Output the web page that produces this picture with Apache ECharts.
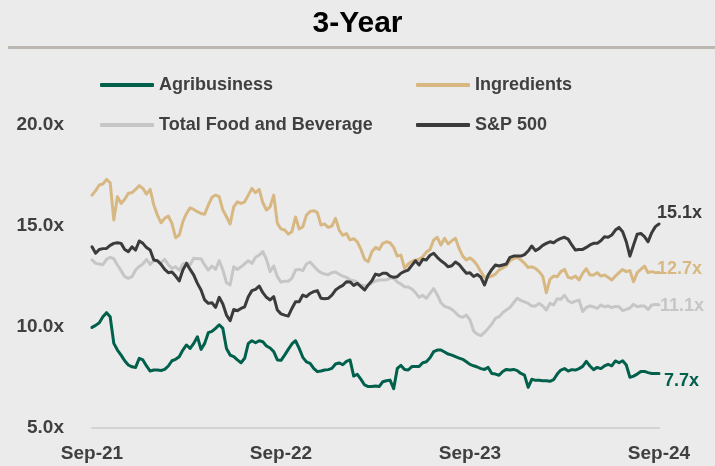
<!DOCTYPE html>
<html>
<head>
<meta charset="utf-8">
<script src="https://cdn.jsdelivr.net/npm/echarts@6/dist/echarts.min.js"></script>
<style>
  html, body { margin: 0; padding: 0; background: #ebebeb; }
  #chart { width: 715px; height: 466px; }
</style>
</head>
<body>
<div id="chart"></div>
<script>
// Weekly P/E multiples, Sep-2021 to Sep-2024 (157 weeks)
const tickLabels = ['Sep-21', 'Sep-22', 'Sep-23', 'Sep-24'];
const seriesNames = ['Agribusiness', 'Ingredients', 'Total Food and Beverage', 'S&P 500'];

const agribusiness = [
  9.98, 10.08, 10.21, 10.51, 10.71, 10.51, 9.19, 8.86, 8.61, 8.33,
  8.12, 8.03, 8.00, 8.45, 8.37, 8.07, 7.82, 7.87, 7.87, 7.85,
  7.90, 8.07, 8.33, 8.40, 8.53, 8.86, 9.11, 8.94, 9.19, 9.52,
  8.89, 9.19, 9.72, 9.78, 9.93, 10.11, 9.93, 8.94, 8.61, 8.53,
  8.37, 8.23, 8.45, 9.19, 9.32, 9.22, 9.32, 9.27, 9.06, 8.96,
  8.78, 8.37, 8.35, 8.61, 8.89, 9.16, 9.32, 8.94, 8.50, 8.27,
  8.20, 7.95, 7.79, 7.82, 7.87, 7.89, 7.95, 8.17, 8.22, 8.13,
  8.30, 8.37, 7.57, 7.66, 7.41, 7.13, 7.05, 7.05, 7.08, 7.05,
  7.29, 7.34, 7.37, 6.95, 7.95, 8.10, 7.90, 7.87, 8.04, 8.04,
  8.04, 8.23, 8.28, 8.48, 8.78, 8.86, 8.86, 8.76, 8.66, 8.61,
  8.53, 8.46, 8.40, 8.28, 8.15, 8.08, 8.02, 7.94, 7.90, 8.00,
  7.70, 7.67, 7.61, 7.80, 7.90, 7.87, 7.90, 7.84, 7.70, 7.62,
  7.01, 7.41, 7.36, 7.36, 7.34, 7.34, 7.31, 7.39, 7.67, 7.87,
  7.94, 7.82, 7.89, 7.87, 7.94, 8.05, 8.30, 8.07, 7.89, 8.00,
  7.94, 8.07, 8.15, 8.08, 8.32, 8.23, 8.33, 8.12, 7.51, 7.57,
  7.67, 7.80, 7.80, 7.74, 7.70, 7.70, 7.70
];

const ingredients = [
  16.53, 16.75, 17.03, 17.08, 17.31, 17.14, 15.30, 16.45, 16.12, 16.32,
  16.62, 16.65, 16.81, 17.00, 16.86, 16.58, 16.81, 16.04, 15.54, 15.16,
  15.38, 15.49, 15.13, 14.42, 14.55, 15.21, 15.62, 15.90, 15.82, 15.71,
  15.62, 15.58, 16.04, 16.42, 16.53, 16.45, 15.79, 15.46, 15.10, 15.95,
  16.20, 16.12, 16.20, 16.53, 16.86, 16.65, 16.81, 16.15, 15.79, 15.95,
  16.53, 15.13, 14.85, 14.80, 14.60, 14.72, 15.45, 14.85, 14.96, 15.54,
  15.72, 15.76, 15.66, 15.05, 15.10, 14.93, 15.00, 15.38, 14.80, 14.54,
  14.63, 14.31, 14.37, 14.21, 13.84, 13.35, 13.23, 13.73, 13.94, 13.84,
  14.14, 14.22, 14.17, 13.94, 13.51, 13.56, 12.90, 13.12, 13.25, 13.32,
  13.35, 13.48, 13.71, 13.84, 14.31, 14.44, 14.06, 14.39, 14.11, 14.27,
  14.39, 13.89, 13.51, 13.32, 13.42, 13.28, 13.05, 12.74, 12.46, 12.46,
  12.52, 12.62, 12.82, 12.92, 13.03, 13.28, 13.38, 13.45, 13.32, 13.15,
  12.95, 12.98, 12.90, 12.74, 12.52, 11.70, 12.36, 12.52, 12.49, 12.74,
  12.85, 12.46, 12.41, 12.52, 12.33, 12.66, 12.89, 12.57, 12.57, 12.69,
  12.52, 12.57, 12.46, 12.33, 12.52, 12.69, 12.85, 12.74, 12.79, 12.24,
  12.69, 12.85, 13.02, 12.69, 12.74, 12.69, 12.70
];

const totalFoodBev = [
  13.32, 13.15, 13.12, 13.08, 13.35, 13.45, 13.38, 13.07, 12.79, 12.49,
  12.41, 12.49, 12.82, 13.00, 13.12, 13.35, 13.10, 13.28, 13.28, 13.18,
  13.35, 13.08, 12.90, 12.98, 12.82, 13.12, 13.18, 13.08, 13.40, 13.38,
  13.38, 13.07, 12.82, 13.02, 12.85, 13.28, 12.82, 12.19, 12.08, 12.98,
  12.85, 12.98, 13.12, 13.28, 13.15, 13.45, 13.56, 13.73, 13.35, 12.74,
  13.02, 12.49, 12.22, 12.27, 12.26, 12.42, 12.82, 12.85, 12.79, 13.12,
  13.22, 13.02, 12.82, 12.69, 12.62, 12.59, 12.69, 12.72, 12.61, 12.52,
  12.46, 12.33, 12.29, 12.21, 12.08, 12.03, 12.06, 12.19, 12.28, 12.33,
  12.33, 12.34, 12.41, 12.42, 12.23, 12.13, 11.99, 11.98, 11.88, 11.70,
  11.47, 11.57, 11.42, 11.66, 11.90, 11.60, 11.20, 11.02, 10.97, 10.87,
  10.71, 10.54, 10.48, 10.59, 10.35, 9.80, 9.65, 9.57, 9.73, 9.93,
  10.15, 10.43, 10.51, 10.71, 10.84, 10.97, 11.20, 11.42, 11.32, 11.24,
  11.17, 11.04, 11.04, 11.17, 11.04, 10.84, 11.17, 11.09, 11.40, 11.37,
  11.57, 11.30, 11.20, 11.28, 11.33, 10.76, 10.97, 11.04, 11.00, 10.92,
  11.09, 11.00, 11.04, 10.96, 11.02, 11.00, 10.81, 10.87, 10.94, 11.12,
  11.00, 11.04, 11.04, 10.87, 11.09, 11.12, 11.10
];

const sp500 = [
  13.97, 13.65, 13.84, 13.88, 13.89, 14.04, 14.14, 14.17, 14.14, 13.84,
  13.73, 13.97, 13.81, 14.26, 14.14, 13.93, 13.81, 13.32, 13.28, 13.10,
  12.85, 12.69, 12.72, 12.52, 12.28, 12.82, 13.15, 12.85, 12.57, 12.16,
  11.83, 11.34, 11.17, 11.20, 10.97, 11.47, 11.14, 10.59, 10.31, 10.87,
  10.81, 10.92, 11.00, 11.50, 11.80, 11.86, 12.03, 11.70, 11.47, 11.34,
  11.50, 10.84, 10.65, 10.59, 10.54, 10.92, 11.25, 11.25, 11.58, 11.50,
  11.66, 11.75, 11.80, 11.42, 11.40, 11.42, 11.58, 11.83, 11.96, 12.06,
  12.24, 12.23, 12.06, 12.16, 12.00, 11.83, 12.08, 12.29, 12.62, 12.56,
  12.66, 12.66, 12.52, 12.46, 12.49, 12.66, 12.75, 12.82, 13.05, 13.28,
  13.07, 13.35, 13.32, 13.55, 13.65, 13.45, 13.28, 13.15, 12.98, 13.03,
  13.22, 13.10, 12.87, 12.66, 12.68, 12.50, 12.60, 12.46, 12.08, 12.57,
  12.85, 13.07, 13.02, 13.07, 13.12, 13.45, 13.51, 13.51, 13.51, 13.58,
  13.76, 14.01, 13.78, 13.88, 14.04, 14.14, 14.22, 14.17, 14.30, 14.39,
  14.44, 14.35, 14.06, 13.81, 13.84, 13.84, 13.94, 14.06, 14.14, 14.14,
  14.27, 14.47, 14.44, 14.55, 14.80, 14.93, 14.72, 14.22, 13.51, 14.06,
  14.59, 14.63, 14.47, 14.22, 14.67, 14.97, 15.10
];

// Week-ending dates for the category axis
const weeks = [];
(function () {
  const start = new Date(Date.UTC(2021, 8, 24));
  for (let i = 0; i < sp500.length; i++) {
    const d = new Date(start.getTime() + i * 7 * 86400000);
    weeks.push(d.toISOString().slice(0, 10));
  }
})();

const FONT = '"Liberation Sans", Arial, Helvetica, sans-serif';
const TEXT = '#404040';
const colors = {
  'Agribusiness': '#00604b',
  'Ingredients': '#d8b882',
  'Total Food and Beverage': '#c6c6c6',
  'S&P 500': '#3b3b3b'
};

function lineSeries(name, data, labelOffset) {
  return {
    name: name,
    type: 'line',
    data: data,
    showSymbol: false,
    symbol: 'none',
    smooth: false,
    color: colors[name],
    lineStyle: { width: 3, color: colors[name], join: 'round', cap: 'round' },
    emphasis: { disabled: true },
    endLabel: {
      show: true,
      formatter: p => Number(p.value).toFixed(1) + 'x',
      color: colors[name],
      fontFamily: FONT,
      fontSize: 18,
      fontWeight: 'bold',
      distance: 0,
      offset: labelOffset
    }
  };
}

function legendBlock(names, left) {
  return {
    data: names,
    orient: 'vertical',
    left: left,
    top: 75,
    padding: 0,
    icon: 'roundRect',
    itemWidth: 54,
    itemHeight: 4,
    itemGap: 20,
    selectedMode: false,
    textStyle: { fontFamily: FONT, fontSize: 18, fontWeight: 'bold', color: TEXT, lineHeight: 20, padding: [0, 0, 0, 0] }
  };
}

const chart = echarts.init(document.getElementById('chart'), null, { renderer: 'canvas' });

chart.setOption({
  backgroundColor: '#ebebeb',
  animation: false,
  textStyle: { fontFamily: FONT },
  title: {
    text: '3-Year',
    left: 'center',
    top: 4,
    textStyle: { fontFamily: FONT, fontSize: 30, fontWeight: 'bold', color: '#000000' }
  },
  graphic: [{
    type: 'rect',
    left: 8,
    top: 46,
    shape: { width: 707, height: 3 },
    style: { fill: '#bdb7b1' },
    silent: true
  }],
  legend: [
    legendBlock([seriesNames[0], seriesNames[2]], 100),
    legendBlock([seriesNames[1], seriesNames[3]], 416)
  ],
  grid: { left: 92, right: 56, top: 125, bottom: 38, containLabel: false },
  xAxis: {
    type: 'category',
    data: weeks,
    boundaryGap: false,
    axisLine: { show: true, lineStyle: { color: '#d3d3d3', width: 2 } },
    axisTick: { show: false },
    splitLine: { show: false },
    axisLabel: {
      interval: 51,
      margin: 16,
      fontFamily: FONT,
      fontSize: 19,
      fontWeight: 'bold',
      color: TEXT,
      formatter: (v, idx) => tickLabels[Math.round(idx / 52)] || ''
    }
  },
  yAxis: {
    type: 'value',
    min: 5,
    max: 20,
    interval: 5,
    axisLine: { show: false },
    axisTick: { show: false },
    splitLine: { show: false },
    axisLabel: {
      margin: 28,
      fontFamily: FONT,
      fontSize: 19,
      fontWeight: 'bold',
      color: TEXT,
      formatter: v => v.toFixed(1) + 'x'
    }
  },
  series: [
    lineSeries('Total Food and Beverage', totalFoodBev, [1, 1]),
    lineSeries('Ingredients', ingredients, [-2, -3]),
    lineSeries('Agribusiness', agribusiness, [5, 8]),
    lineSeries('S&P 500', sp500, [-2, -11])
  ]
});
</script>
</body>
</html>
